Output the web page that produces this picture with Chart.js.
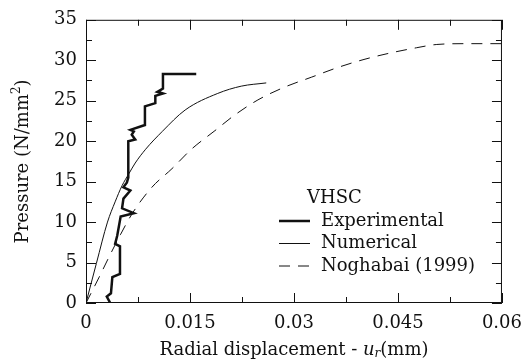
<!DOCTYPE html>
<html>
<head>
<meta charset="utf-8">
<script src="https://cdn.jsdelivr.net/npm/chart.js@4.4.0/dist/chart.umd.min.js"></script>
<style>
  body { margin: 0; background: #fff; }
  #wrap { width: 532px; height: 363px; }
</style>
</head>
<body>
<div id="wrap"><canvas id="plChart" width="532" height="363"></canvas></div>
<script>
// Pressure vs radial displacement (VHSC)

const xTickValues = [0, 0.015, 0.03, 0.045, 0.06];
const xTickLabels = ['0', '0.015', '0.03', '0.045', '0.06'];
const yTickValues = [0, 5, 10, 15, 20, 25, 30, 35];
const yTickLabels = ['0', '5', '10', '15', '20', '25', '30', '35'];

const seriesNames = ['Experimental', 'Numerical', 'Noghabai (1999)'];
const legendTitle = 'VHSC';

const expX = [0.0035, 0.0030, 0.0036, 0.0038, 0.0049, 0.0049, 0.0042, 0.0045, 0.0050, 0.0069, 0.0052, 0.0054, 0.0064, 0.0054, 0.0059, 0.0061, 0.0061, 0.0071, 0.0066, 0.0069, 0.0064, 0.0085, 0.0085, 0.0100, 0.0100, 0.0111, 0.0103, 0.0111, 0.0111, 0.0159];
const expY = [0, 0.8, 1.2, 3.2, 3.6, 7.0, 7.3, 8.3, 10.7, 11.1, 11.7, 12.9, 13.9, 14.3, 14.9, 15.5, 20.0, 20.2, 20.8, 21.2, 21.4, 22.0, 24.3, 24.7, 25.6, 25.9, 26.1, 26.5, 28.3, 28.3];

const numX = [0, 0.0015, 0.0031, 0.0042, 0.0052, 0.0062, 0.0071, 0.0086, 0.011, 0.0143, 0.019, 0.0224, 0.026];
const numY = [0, 4.9, 10.0, 12.5, 14.5, 16.0, 17.3, 19.0, 21.2, 23.85, 25.9, 26.8, 27.2];

const nogX = [0, 0.0019, 0.0035, 0.005, 0.0067, 0.0095, 0.0124, 0.0152, 0.0186, 0.0214, 0.0248, 0.0287, 0.0325, 0.0363, 0.0401, 0.0439, 0.0477, 0.0506, 0.055, 0.06];
const nogY = [0, 3.2, 6.0, 8.5, 11.1, 14.3, 16.6, 19.0, 21.3, 23.2, 25.1, 26.7, 27.9, 29.1, 30.1, 30.9, 31.55, 31.95, 32.05, 32.05];

const FONT = '"DejaVu Serif", "Liberation Serif", serif';
const pts = (xs, ys) => xs.map((x, i) => ({ x: x, y: ys[i] }));

// frame, inward ticks, legend and axis titles
const decorPlugin = {
    id: 'decor',
    afterDraw(chart) {
        const ctx = chart.ctx;
        const a = chart.chartArea;
        const xs = chart.scales.x, ys = chart.scales.y;
        ctx.save();
        ctx.strokeStyle = '#111';
        ctx.lineWidth = 1;
        ctx.strokeRect(a.left + 0.5, a.top + 0.5, a.right - a.left - 1, a.bottom - a.top - 1);

        ctx.beginPath();
        for (let v = 0; v <= 0.06 + 1e-9; v += 0.0075) {
            const px = Math.round(xs.getPixelForValue(v)) + 0.5;
            const major = Math.abs(v / 0.015 - Math.round(v / 0.015)) < 1e-6;
            const len = major ? 10 : 6;
            ctx.moveTo(px, a.bottom); ctx.lineTo(px, a.bottom - len);
            ctx.moveTo(px, a.top); ctx.lineTo(px, a.top + len);
        }
        for (let v = 0; v <= 35 + 1e-9; v += 2.5) {
            const py = Math.round(ys.getPixelForValue(v)) + 0.5;
            const major = v % 5 === 0;
            const len = major ? 10 : 6;
            ctx.moveTo(a.left, py); ctx.lineTo(a.left + len, py);
            ctx.moveTo(a.right, py); ctx.lineTo(a.right - len, py);
        }
        ctx.stroke();

        // legend
        ctx.fillStyle = '#111';
        ctx.font = '18px ' + FONT;
        ctx.textBaseline = 'middle';
        ctx.textAlign = 'left';
        ctx.fillText(legendTitle, 307, 198);
        const rows = [221, 243.5, 266];
        chart.data.datasets.forEach((ds, i) => {
            const y = rows[i];
            ctx.save();
            ctx.strokeStyle = ds.borderColor;
            ctx.lineWidth = ds.borderWidth;
            ctx.setLineDash(ds.borderDash || []);
            ctx.beginPath();
            ctx.moveTo(279, y); ctx.lineTo(310, y);
            ctx.stroke();
            ctx.restore();
            ctx.fillText(ds.label, 321, y);
        });

        // x title with italic u subscript r
        const segs = [
            { t: 'Radial displacement - ', f: '18px ' + FONT, dy: 0 },
            { t: 'u', f: 'italic 18px ' + FONT, dy: 0 },
            { t: 'r', f: 'italic 12px ' + FONT, dy: 4 },
            { t: '(mm)', f: '18px ' + FONT, dy: 0 }
        ];
        let total = 0;
        segs.forEach(s => { ctx.font = s.f; s.w = ctx.measureText(s.t).width; total += s.w; });
        let x = (a.left + a.right) / 2 - total / 2;
        segs.forEach(s => { ctx.font = s.f; ctx.fillText(s.t, x, 350 + s.dy); x += s.w; });

        // y title with superscript 2
        ctx.save();
        ctx.translate(23, (a.top + a.bottom) / 2);
        ctx.rotate(-Math.PI / 2);
        const ysegs = [
            { t: 'Pressure (N/mm', f: '18px ' + FONT, dy: 0 },
            { t: '2', f: '12px ' + FONT, dy: -6 },
            { t: ')', f: '18px ' + FONT, dy: 0 }
        ];
        total = 0;
        ysegs.forEach(s => { ctx.font = s.f; s.w = ctx.measureText(s.t).width; total += s.w; });
        x = -total / 2;
        ysegs.forEach(s => { ctx.font = s.f; ctx.fillText(s.t, x, s.dy); x += s.w; });
        ctx.restore();

        ctx.restore();
    }
};

new Chart(document.getElementById('plChart'), {
    type: 'line',
    data: {
        datasets: [
            {
                label: seriesNames[0],
                data: pts(expX, expY),
                borderColor: '#111',
                borderWidth: 2.5,
                pointRadius: 0,
                tension: 0
            },
            {
                label: seriesNames[1],
                data: pts(numX, numY),
                borderColor: '#111',
                borderWidth: 1,
                pointRadius: 0,
                cubicInterpolationMode: 'monotone'
            },
            {
                label: seriesNames[2],
                data: pts(nogX, nogY),
                borderColor: '#111',
                borderWidth: 1,
                borderDash: [11, 8],
                pointRadius: 0,
                cubicInterpolationMode: 'monotone'
            }
        ]
    },
    options: {
        responsive: false,
        animation: false,
        layout: { padding: { left: 0, right: 26, top: 15, bottom: 0 } },
        plugins: {
            legend: { display: false },
            tooltip: { enabled: false }
        },
        scales: {
            x: {
                type: 'linear',
                min: 0,
                max: 0.06,
                afterBuildTicks: s => { s.ticks = xTickValues.map(v => ({ value: v })); },
                afterFit: s => { s.height = 60; },
                ticks: {
                    color: '#111',
                    font: { family: FONT, size: 18 },
                    padding: 10,
                    maxRotation: 0,
                    callback: (v, i) => xTickLabels[i]
                },
                grid: { display: false, drawTicks: false },
                border: { display: false }
            },
            y: {
                min: 0,
                max: 35,
                afterBuildTicks: s => { s.ticks = yTickValues.map(v => ({ value: v })); },
                afterFit: s => { s.width = 86; },
                ticks: {
                    color: '#111',
                    font: { family: FONT, size: 18 },
                    padding: 9,
                    callback: (v, i) => yTickLabels[i]
                },
                grid: { display: false, drawTicks: false },
                border: { display: false }
            }
        }
    },
    plugins: [decorPlugin]
});
</script>
</body>
</html>
